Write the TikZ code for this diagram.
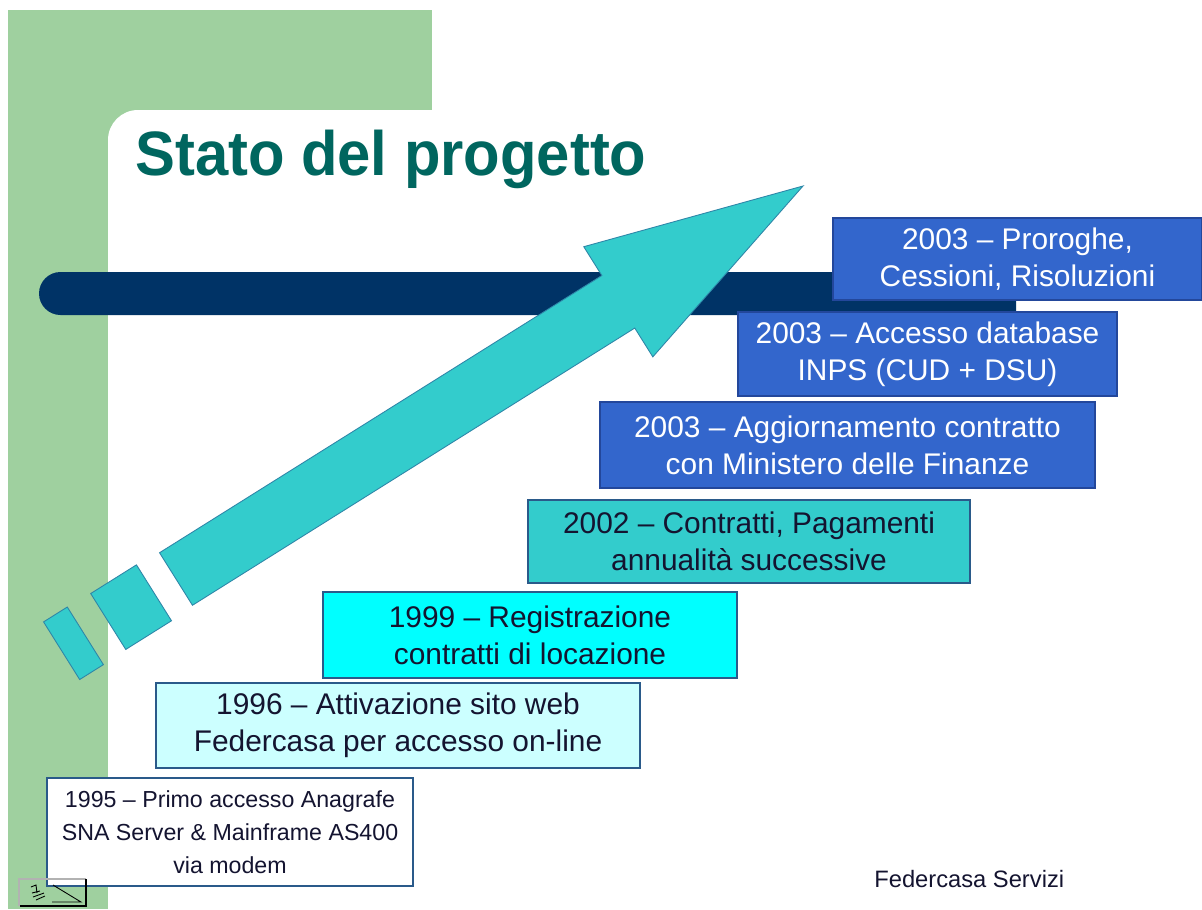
\documentclass[tikz,border=0pt]{standalone}
\usepackage{fontspec}
\setmainfont{Liberation Sans}
\definecolor{greenbg}{HTML}{9FD09F}
\definecolor{navybar}{HTML}{003366}
\definecolor{arrowfill}{HTML}{33CCCC}
\definecolor{arrowline}{HTML}{2E86A8}
\definecolor{bluebox}{HTML}{3366CC}
\definecolor{blueline}{HTML}{23479B}
\definecolor{tealbox}{HTML}{33CCCC}
\definecolor{cyanbox}{HTML}{00FFFF}
\definecolor{palebox}{HTML}{CCFFFF}
\definecolor{boxline}{HTML}{2A5A8A}
\definecolor{titlecol}{HTML}{00665F}
\definecolor{darktext}{HTML}{141430}
\begin{document}
\begin{tikzpicture}[x=0.02cm,y=-0.02cm,
  boxbase/.style={draw=boxline, line width=0.7pt, inner sep=0pt, align=center,
    font=\fontsize{17}{21}\selectfont, text=darktext},
  bluestep/.style={boxbase, fill=bluebox, draw=blueline, text=white},
  tealstep/.style={boxbase, fill=tealbox},
  cyanstep/.style={boxbase, fill=cyanbox},
  palestep/.style={boxbase, fill=palebox},
  whitestep/.style={boxbase, fill=white, font=\fontsize{13.2}{18.7}\selectfont},
  arrowpart/.style={fill=arrowfill, draw=arrowline, line width=0.5pt},
]
\useasboundingbox (0,0) rectangle (1202,909);
\fill[white] (0,0) rectangle (1202,909);
% green background
\fill[greenbg] (8,10) rectangle (432,909);
\fill[white] (108,909) [rounded corners=0.6cm] -- (108,110) [sharp corners] -- (432,110) -- (432,909) -- cycle;
% navy bar
\fill[navybar] (1016,272) [rounded corners=0.43cm] -- (39,272) -- (39,315) [sharp corners] -- (1016,315) -- cycle;
% title
\node[anchor=base west, inner sep=0pt, font=\fontsize{34}{40}\selectfont\bfseries, text=titlecol, yscale=1.05] (title) at (135,175) {Stato del progetto};
% arrow
\begin{scope}[shift={(803,186)}, rotate=32.08]
  \filldraw[arrowpart] (0,0) -- (-218,65) -- (-218,31) -- (-740,31) -- (-740,-31) -- (-218,-31) -- (-218,-65) -- cycle;
  \filldraw[arrowpart] (-820,-33) rectangle (-766,33);
  \filldraw[arrowpart] (-875,-34) rectangle (-847,34);
\end{scope}
% boxes
\node[bluestep, minimum width=7.38cm, minimum height=1.64cm] (b1) at (1017.5,259) {2003 – Proroghe,\\Cessioni, Risoluzioni};
\node[bluestep, minimum width=7.58cm, minimum height=1.68cm] (b2) at (927.5,354) {2003 – Accesso database\\INPS (CUD + DSU)};
\node[bluestep, minimum width=9.90cm, minimum height=1.72cm] (b3) at (847.5,445) {2003 – Aggiornamento contratto\\con Ministero delle Finanze};
\node[tealstep, minimum width=8.84cm, minimum height=1.66cm] (b4) at (749,541.5) {2002 – Contratti, Pagamenti\\annualità successive};
\node[cyanstep, minimum width=8.28cm, minimum height=1.72cm] (b5) at (530,635) {1999 – Registrazione\\contratti di locazione};
\node[palestep, minimum width=9.68cm, minimum height=1.70cm] (b6) at (398,725.5) {1996 – Attivazione sito web\\Federcasa per accesso on-line};
\node[whitestep, minimum width=7.32cm, minimum height=2.16cm] (b7) at (230,832) {1995 – Primo accesso Anagrafe\\SNA Server \& Mainframe AS400\\via modem};
% footer
\node[anchor=base west, inner sep=0pt, font=\fontsize{13.5}{16}\selectfont, text=darktext] (footer) at (874,887) {Federcasa Servizi};
% navigation icon
\draw[gray!60, line width=0.6pt] (86,879) -- (19,879) -- (19,906);
\draw[black, line width=1.2pt] (20,906) -- (86,906) -- (86,879);
\draw[black, line width=0.5pt] (53,885) -- (81,902) -- (52,902);
\draw[black, line width=0.5pt] (31,887) -- (36,885) -- (37,893) (32,893) -- (40,891) (33,897) -- (44,893) (36,900) -- (45,896);
\end{tikzpicture}
\end{document}
